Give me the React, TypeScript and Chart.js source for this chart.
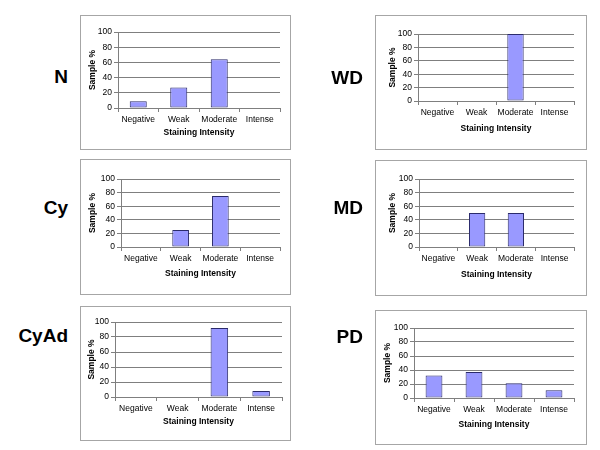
import React, { useEffect, useRef } from "react";
import { Chart, registerables } from "chart.js";

Chart.register(...registerables);

const categories = ["Negative", "Weak", "Moderate", "Intense"];
const yTicks = [0, 20, 40, 60, 80, 100];
const nValues = [9, 27, 64, 0];
const wdValues = [0, 0, 100, 0];
const cyValues = [0, 25, 75, 0];
const mdValues = [0, 50, 50, 0];
const cyadValues = [0, 0, 92, 8];
const pdValues = [32, 37, 21, 11];
const panelNames = ["N", "WD", "Cy", "MD", "CyAd", "PD"];
const panelValues = [nValues, wdValues, cyValues, mdValues, cyadValues, pdValues];
const xTitle = "Staining Intensity";
const yTitle = "Sample %";

const FONT = "'Liberation Sans', Arial, sans-serif";
const FS = 8.5;
const LH = FS * 1.2;

type Layout = {
  box: { x: number; y: number; w: number; h: number };
  plot: { l: number; r: number; t: number; b: number };
  titleDy: number;
  yTitleX: number;
  label: { right: number; cy: number };
};

const layouts: Layout[] = [
  { box: { x: 80, y: 15, w: 211, h: 135 }, plot: { l: 118, r: 280, t: 32, b: 108 }, titleDy: 25, yTitleX: 93, label: { right: 68, cy: 76 } },
  { box: { x: 375, y: 15, w: 212, h: 135 }, plot: { l: 418, r: 574, t: 34, b: 101 }, titleDy: 28, yTitleX: 393, label: { right: 363, cy: 77 } },
  { box: { x: 80, y: 159, w: 211, h: 136 }, plot: { l: 121, r: 280, t: 179, b: 247 }, titleDy: 27, yTitleX: 93, label: { right: 68, cy: 207 } },
  { box: { x: 375, y: 160, w: 212, h: 136 }, plot: { l: 419, r: 574, t: 179, b: 247 }, titleDy: 28, yTitleX: 393, label: { right: 363, cy: 207 } },
  { box: { x: 80, y: 306, w: 211, h: 135 }, plot: { l: 115, r: 282, t: 322, b: 397 }, titleDy: 25, yTitleX: 92, label: { right: 68, cy: 335 } },
  { box: { x: 375, y: 310, w: 212, h: 135 }, plot: { l: 414, r: 574, t: 328, b: 398 }, titleDy: 27, yTitleX: 388, label: { right: 363, cy: 336 } },
];

function Panel({ values, layout }: { values: number[]; layout: Layout }) {
  const ref = useRef<HTMLCanvasElement>(null);
  const iw = layout.box.w - 2;
  const ih = layout.box.h - 2;
  useEffect(() => {
    const ox = layout.box.x + 1;
    const oy = layout.box.y + 1;
    const padLeft = layout.yTitleX - ox - LH / 2;
    const yWidth = layout.plot.l - ox - padLeft;
    const padTop = layout.plot.t - oy;
    const padRight = iw - (layout.plot.r - ox);
    const xHeight = layout.titleDy + LH / 2;
    const padBottom = ih - (layout.plot.b - oy) - xHeight;
    const chart = new Chart(ref.current!, {
      type: "bar",
      data: {
        labels: categories,
        datasets: [
          {
            data: values,
            backgroundColor: "#9999ff",
            borderColor: "#2b2b6b",
            borderWidth: (ctx: any) => (ctx.raw === 0 ? 0 : 1),
            borderSkipped: false,
            categoryPercentage: 1,
            barPercentage: 0.42,
          },
        ],
      },
      options: {
        animation: false,
        responsive: false,
        devicePixelRatio: 1,
        layout: { padding: { left: padLeft, top: padTop, right: padRight, bottom: padBottom } },
        plugins: { legend: { display: false }, tooltip: { enabled: false } },
        scales: {
          x: {
            type: "category",
            offset: true,
            grid: { drawOnChartArea: false, drawTicks: true, tickLength: 4, color: "#7f7f7f", offset: true },
            border: { color: "#7f7f7f" },
            ticks: { color: "#000", font: { family: FONT, size: FS }, padding: 3, maxRotation: 0, autoSkip: false },
            title: { display: true, text: xTitle, color: "#000", font: { family: FONT, size: FS, weight: "bold" }, padding: 0 },
            afterFit: (s: any) => {
              s.height = xHeight;
            },
          },
          y: {
            min: 0,
            max: 100,
            afterBuildTicks: (s: any) => {
              s.ticks = yTicks.map((v) => ({ value: v }));
            },
            grid: { color: "#7f7f7f", drawTicks: true, tickLength: 4 },
            border: { color: "#7f7f7f" },
            ticks: { color: "#000", font: { family: FONT, size: FS }, padding: 2 },
            title: { display: true, text: yTitle, color: "#000", font: { family: FONT, size: FS, weight: "bold" }, padding: 0 },
            afterFit: (s: any) => {
              s.width = yWidth;
            },
          },
        },
      },
    } as any);
    return () => chart.destroy();
  }, [values, layout]);
  return (
    <div
      style={{
        position: "absolute",
        left: layout.box.x,
        top: layout.box.y,
        width: layout.box.w,
        height: layout.box.h,
        boxSizing: "border-box",
        border: "1px solid #a6a6a6",
        background: "#fff",
      }}
    >
      <canvas ref={ref} width={iw} height={ih} style={{ display: "block", width: iw, height: ih }} />
    </div>
  );
}

export default function App() {
  return (
    <div style={{ position: "absolute", left: 0, top: 0, width: 600, height: 450, background: "#fff", overflow: "hidden" }}>
      {layouts.map((l, i) => (
        <React.Fragment key={i}>
          <div
            style={{
              position: "absolute",
              left: l.label.right - 100,
              width: 100,
              top: l.label.cy - 9.3,
              textAlign: "right",
              fontFamily: FONT,
              fontWeight: "bold",
              fontSize: 19,
              lineHeight: "19px",
              color: "#000",
              whiteSpace: "nowrap",
            }}
          >
            {panelNames[i]}
          </div>
          <Panel values={panelValues[i]} layout={l} />
        </React.Fragment>
      ))}
    </div>
  );
}
